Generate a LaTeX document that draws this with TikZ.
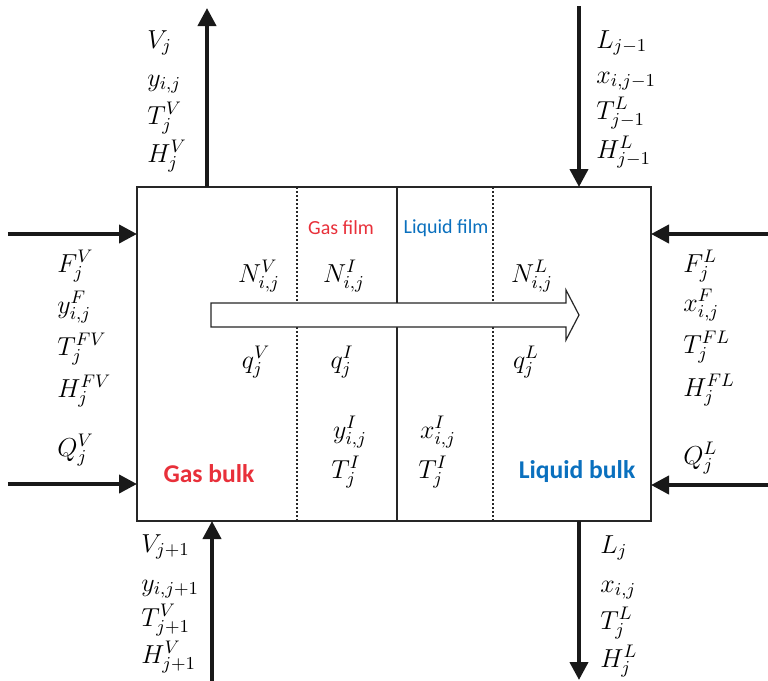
\RequirePackage{fix-cm}
\documentclass[tikz,border=0pt]{standalone}
\usepackage{fontspec}
\usepackage{xcolor}
\usepackage{tikz}
\usetikzlibrary{arrows.meta,positioning,fit}
\newfontfamily\calfont{Carlito}
\definecolor{gasred}{HTML}{E8303A}
\definecolor{liqblue}{HTML}{0A70BE}
\tikzset{
  stagebox/.style={draw=black!85,line width=0.8pt,inner sep=0pt,outer sep=0pt},
  filmline/.style={black!85,line width=0.6pt,dash pattern=on 1pt off 1pt},
  ifaceline/.style={black!85,line width=0.8pt},
  flowarr/.style={-{Triangle[length=9pt,width=9pt]},line width=2pt,black!90},
  fluxarr/.style={draw=black!85,fill=white,line width=0.6pt},
  varlbl/.style={anchor=west,inner sep=0pt,text height=9pt,text depth=3pt,
    font=\fontsize{13}{15}\selectfont},
  midlbl/.style={varlbl,anchor=center},
  filmlbl/.style={inner sep=0pt,font=\calfont\fontsize{10}{12}\selectfont},
  bulklbl/.style={inner sep=0pt,font=\calfont\bfseries\fontsize{12.8}{14}\selectfont},
}

\begin{document}
\begin{tikzpicture}[x=0.5pt,y=-0.5pt]
  \useasboundingbox (0,0) rectangle (768,681);
  \coordinate (boxnw) at (137,187);
  \coordinate (boxse) at (651,521);
  \node[stagebox,fit=(boxnw)(boxse)] (stage) {};
  \coordinate (gfilm) at (297,0);
  \coordinate (iface) at (397,0);
  \coordinate (lfilm) at (493,0);
  \draw[filmline] (stage.north -| gfilm) -- (stage.south -| gfilm);
  \draw[ifaceline] (stage.north -| iface) -- (stage.south -| iface);
  \draw[filmline] (stage.north -| lfilm) -- (stage.south -| lfilm);
  \draw[fluxarr] (211,303) -- (566,303) -- (566,290) -- (579,315)
    -- (566,340) -- (566,327) -- (211,327) -- cycle;
  \coordinate (vout) at (207,8);
  \coordinate (lin) at (579,6);
  \coordinate (vin) at (212,681);
  \coordinate (lout) at (579,680);
  \coordinate (fvin) at (8,234);
  \coordinate (qvin) at (8,484);
  \coordinate (flin) at (768,234);
  \coordinate (qlin) at (768,485);
  \draw[flowarr] (vout |- stage.north) -- (vout);
  \draw[flowarr] (lin) -- (lin |- stage.north);
  \draw[flowarr] (vin) -- (vin |- stage.south);
  \draw[flowarr] (lout |- stage.south) -- (lout);
  \draw[flowarr] (fvin) -- (fvin -| stage.west);
  \draw[flowarr] (qvin) -- (qvin -| stage.west);
  \draw[flowarr] (flin) -- (flin -| stage.east);
  \draw[flowarr] (qlin) -- (qlin -| stage.east);
  \node[varlbl] (vtopV) at (147,42) {$V_j$};
  \node[varlbl] (vtopy) at (147,80) {$y_{i,j}$};
  \node[varlbl] (vtopT) at (147,118) {$T_j^V$};
  \node[varlbl] (vtopH) at (147,156) {$H_j^V$};
  \node[varlbl] (ltopL) at (596,42) {$L_{j-1}$};
  \node[varlbl] (ltopx) at (596,77) {$x_{i,j-1}$};
  \node[varlbl] (ltopT) at (596,113) {$T_{j-1}^L$};
  \node[varlbl] (ltopH) at (596,152) {$H_{j-1}^L$};
  \node[varlbl] (fvF) at (57,266) {$F_j^V$};
  \node[varlbl] (fvy) at (57,307) {$y_{i,j}^F$};
  \node[varlbl] (fvT) at (57,349) {$T_j^{FV}$};
  \node[varlbl] (fvH) at (57,391) {$H_j^{FV}$};
  \node[varlbl] (qvQ) at (57,450) {$Q_j^V$};
  \node[varlbl] (flF) at (683,266) {$F_j^L$};
  \node[varlbl] (flx) at (683,305) {$x_{i,j}^F$};
  \node[varlbl] (flT) at (683,347) {$T_j^{FL}$};
  \node[varlbl] (flH) at (683,390) {$H_j^{FL}$};
  \node[varlbl] (qlQ) at (683,458) {$Q_j^L$};
  \node[varlbl] (vbotV) at (141,546) {$V_{j+1}$};
  \node[varlbl] (vboty) at (141,585) {$y_{i,j+1}$};
  \node[varlbl] (vbotT) at (141,620) {$T_{j+1}^V$};
  \node[varlbl] (vbotH) at (141,657) {$H_{j+1}^V$};
  \node[varlbl] (lbotL) at (600,547) {$L_j$};
  \node[varlbl] (lbotx) at (600,586) {$x_{i,j}$};
  \node[varlbl] (lbotT) at (600,623) {$T_j^L$};
  \node[varlbl] (lbotH) at (600,661) {$H_j^L$};
  \node[midlbl] (nV) at (259,276) {$N_{i,j}^V$};
  \node[midlbl] (nI) at (344,276) {$N_{i,j}^I$};
  \node[midlbl] (nL) at (532,276) {$N_{i,j}^L$};
  \node[midlbl] (qV) at (256,362) {$q_j^V$};
  \node[midlbl] (qI) at (342,362) {$q_j^I$};
  \node[midlbl] (qL) at (526,362) {$q_j^L$};
  \node[midlbl] (yI) at (350,432) {$y_{i,j}^I$};
  \node[midlbl] (tIg) at (346,472) {$T_j^I$};
  \node[midlbl] (xI) at (438,432) {$x_{i,j}^I$};
  \node[midlbl] (tIl) at (433,472) {$T_j^I$};
  \node[filmlbl,text=gasred] (gfilmlbl) at (341,228) {Gas film};
  \node[filmlbl,text=liqblue] (lfilmlbl) at (446,228) {Liquid film};
  \node[bulklbl,text=gasred] (gbulk) at (209,474) {Gas bulk};
  \node[bulklbl,text=liqblue] (lbulk) at (577,472) {Liquid bulk};
\end{tikzpicture}
\end{document}
